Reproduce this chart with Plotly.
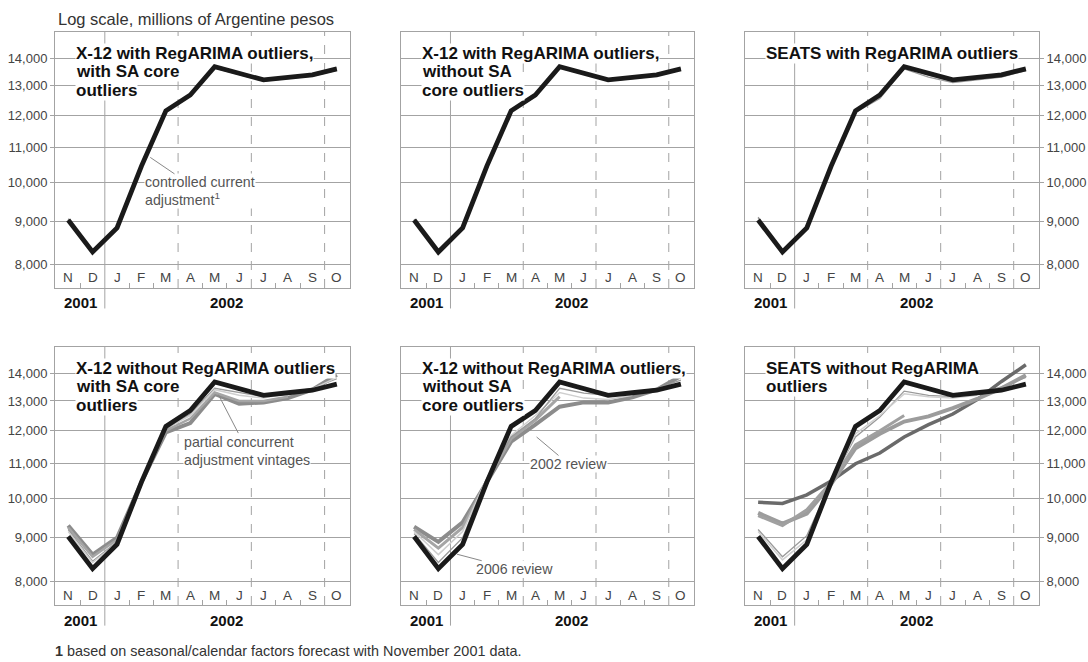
import math
import plotly.graph_objects as go

# ==== Data ====
months = ["N", "D", "J", "F", "M", "A", "M", "J", "J", "A", "S", "O"]
year_labels = ["2001", "2002"]
year_pos = [0.5, 6.5]
y_ticks = [8000, 9000, 10000, 11000, 12000, 13000, 14000]
y_ticktext = ["8,000", "9,000", "10,000", "11,000", "12,000", "13,000", "14,000"]

# final (published) seasonally adjusted series, same in every panel
final_sa = [9030, 8280, 8840, 10450, 12140, 12670, 13680, 13430, 13200, 13290, 13380, 13600]

# X-12 with RegARIMA outliers, with SA core outliers
p1_a = [9060, 8310, 8870, 10480, 12170, 12700, 13720, 13470, 13230, 13320, 13410, 13640]
p1_b = [9000, 8250, 8810, 10410, 12110, 12630, 13630, 13390, 13160, 13250, 13340, 13550]
# X-12 with RegARIMA outliers, without SA core outliers
p2_a = [9050, 8300, 8860, 10470, 12160, 12710, 13700, 13460, 13220, 13320, 13420, 13630]
p2_b = [9010, 8260, 8820, 10420, 12110, 12620, 13640, 13390, 13170, 13250, 13350, 13560]
# SEATS with RegARIMA outliers
p3_a = [9100, 8230, 8800, 10380, 12090, 12550, 13600, 13300, 13100, 13200, 13300, 13540]
p3_b = [9080, 8310, 8890, 10500, 12180, 12600, 13650, 13370, 13140, 13250, 13360, 13580]
# X-12 without RegARIMA outliers, with SA core outliers
p4_a = [9300, 8600, 9000, 10450, 11950, 12250, 13250, 12900, 12950, 13100, 13400, 13950]
p4_b = [9250, 8550, 8950, 10480, 12000, 12400, 13300, 13000, 13000, 13150, None, None]
p4_c = [9200, 8450, 8900, 10420, 12050, 12550, 13450, 13300, 13150, 13300, 13450, 13800]
p4_d = [9150, 8420, 8870, 10400, 12080, 12500, 13400, 13200, 13100, 13250, 13420, 13850]
# X-12 without RegARIMA outliers, without SA core outliers
p5_2002 = [9270, 8900, 9380, 10480, 11650, 12200, 12800, 12950, 12950, 13130, 13400, 13900]
p5_2006 = [9100, 8420, 9000, 10550, 11800, 12400, 13450, 13280, 13200, 13300, 13450, 13750]
p5_c = [9200, 8750, 9250, 10500, 11750, 12350, 13150, None, None, None, None, None]
p5_d = [9150, 8600, 9150, 10550, 11850, 12500, 13300, 13100, 13050, 13200, None, None]
# SEATS without RegARIMA outliers
p6_a = [9900, 9870, 10100, 10480, 10980, 11300, 11800, 12200, 12550, 13050, 13700, 14330]
p6_b = [9620, 9350, 9600, 10400, 11450, 11900, 12300, 12470, 12750, 13070, 13450, 13930]
p6_c = [9550, 9300, 9700, 10450, 11550, 12000, 12500, None, None, None, None, None]
p6_d = [9200, 8550, 9050, 10450, 11800, 12450, 13350, 13200, 13150, 13250, 13500, 13850]
p6_e = [9150, 8480, 8950, 10400, 11900, 12500, 13250, 13150, 13100, 13200, None, None]

panel_titles = [
    ["X-12 with RegARIMA outliers,", "with SA core", "outliers"],
    ["X-12 with RegARIMA outliers,", "without SA", "core outliers"],
    ["SEATS with RegARIMA outliers"],
    ["X-12 without RegARIMA outliers", "with SA core", "outliers"],
    ["X-12 without RegARIMA outliers,", "without SA", "core outliers"],
    ["SEATS without RegARIMA", "outliers"],
]

# styles: (color, width)
THICK = ("#8c8c8c", 4)
DARK = ("#6a6a6a", 3.5)
THIN = ("#9a9a9a", 1.3)
LIGHT = ("#cfcfcf", 1.5)
panel_series = [
    [(p1_a, THIN), (p1_b, THIN)],
    [(p2_a, THIN), (p2_b, THIN)],
    [(p3_a, THIN), (p3_b, THIN)],
    [(p4_a, THICK), (p4_b, ("#a5a5a5", 2.5)), (p4_c, THIN), (p4_d, LIGHT)],
    [(p5_2002, THICK), (p5_c, ("#a5a5a5", 3)), (p5_d, LIGHT), (p5_2006, THIN)],
    [(p6_a, DARK), (p6_b, ("#9c9c9c", 4)), (p6_c, ("#a0a0a0", 3)), (p6_d, THIN), (p6_e, LIGHT)],
]

# ==== Layout geometry (pixels -> paper fractions) ====
W, H = 1088, 662
col_px = [(55, 350), (401, 694), (745, 1039)]
row_px = [(32, 288), (347, 605)]
GRID = "#a3a3a3"
FONT = "Liberation Sans, Arial, sans-serif"

fig = go.Figure()
shapes = []
annotations = []
layout_axes = {}

for i in range(6):
    r, c = divmod(i, 3)
    n = i + 1
    xa = "x" if n == 1 else f"x{n}"
    ya = "y" if n == 1 else f"y{n}"
    x0, x1 = col_px[c]
    y0, y1 = row_px[r]
    layout_axes["xaxis" if n == 1 else f"xaxis{n}"] = dict(
        domain=[x0 / W, x1 / W], anchor=ya, range=[-0.54, 11.54],
        showgrid=False, zeroline=False, showline=True, mirror=True,
        linecolor=GRID, linewidth=1, ticks="inside", ticklen=5, tickcolor=GRID,
        tickvals=[0.5, 2.5, 3.5, 5.5, 6.5, 8.5, 9.5], showticklabels=False,
    )
    show_labels = c != 1
    layout_axes["yaxis" if n == 1 else f"yaxis{n}"] = dict(
        domain=[1 - y1 / H, 1 - y0 / H], anchor=xa, type="log",
        range=[math.log10(7510), math.log10(15030)],
        tickvals=y_ticks, ticktext=y_ticktext, showgrid=True, gridcolor=GRID,
        gridwidth=1, zeroline=False, showline=True, mirror=True,
        linecolor=GRID, linewidth=1,
        ticks="outside" if show_labels else "", ticklen=4, tickcolor=GRID,
        showticklabels=show_labels, side="right" if c == 2 else "left",
        tickfont=dict(size=13, color="#444", family=FONT),
    )

    for vals, (color, width) in panel_series[i]:
        fig.add_trace(go.Scatter(
            x=list(range(len(months))), y=vals, mode="lines",
            line=dict(color=color, width=width), xaxis=xa, yaxis=ya,
            showlegend=False, hoverinfo="skip",
        ))
    fig.add_trace(go.Scatter(
        x=list(range(len(months))), y=final_sa, mode="lines",
        line=dict(color="#1a1a1a", width=4.8), xaxis=xa, yaxis=ya,
        showlegend=False,
    ))

    # year boundary (solid) and quarter boundaries (dashed)
    shapes.append(dict(type="line", xref=xa, yref=f"{ya} domain", x0=1.5, x1=1.5,
                       y0=-0.08, y1=1, line=dict(color=GRID, width=1), layer="below"))
    for qx in [4.5, 7.5, 10.5]:
        shapes.append(dict(type="line", xref=xa, yref=f"{ya} domain", x0=qx, x1=qx,
                           y0=0, y1=1, line=dict(color=GRID, width=1, dash="dash"),
                           layer="below"))

    hpx = y1 - y0
    for k, m in enumerate(months):
        annotations.append(dict(x=k, y=10 / hpx, xref=xa, yref=f"{ya} domain", text=m,
                                showarrow=False, xanchor="center", yanchor="middle",
                                font=dict(size=13.5, color="#444", family=FONT)))
    for txt, pos in zip(year_labels, year_pos):
        annotations.append(dict(x=pos, y=-15 / hpx, xref=xa, yref=f"{ya} domain",
                                text=f"<b>{txt}</b>", showarrow=False,
                                xanchor="center", yanchor="middle",
                                font=dict(size=15, color="#111", family=FONT)))
    for j, line in enumerate(panel_titles[i]):
        annotations.append(dict(x=20 / (x1 - x0), y=1 - (21 + 18.5 * j) / hpx,
                                xref=f"{xa} domain", yref=f"{ya} domain",
                                text=f"<b>{line}</b>", showarrow=False,
                                xanchor="left", yanchor="middle", bgcolor="white",
                                borderpad=0,
                                font=dict(size=17, color="#111", family=FONT)))

# callout labels
callouts = [
    ("x", "y", 3.36, 10700, "controlled current<br>adjustment<sup>1</sup>", 50, 34),
    ("x4", "y4", 6.15, 13225, "partial concurrent<br>adjustment vintages", 29, 56),
    ("x5", "y5", 5.05, 11800, "2002 review", 32, 27),
    ("x5", "y5", 1.77, 8609, "2006 review", 57, 15),
]
for xa, ya, cx, cy, txt, ax, ay in callouts:
    annotations.append(dict(x=cx, y=math.log10(cy), xref=xa, yref=ya, text=txt,
                            showarrow=True, arrowhead=0, arrowwidth=1, arrowcolor="#888",
                            ax=ax, ay=ay, align="left", bgcolor="white", borderpad=0,
                            font=dict(size=14.2, color="#555", family=FONT)))

annotations.append(dict(x=56 / W, y=1 - 19 / H, xref="paper", yref="paper",
                        text="Log scale, millions of Argentine pesos", showarrow=False,
                        xanchor="left", yanchor="middle",
                        font=dict(size=16.5, color="#333", family=FONT)))
annotations.append(dict(x=53 / W, y=1 - 651 / H, xref="paper", yref="paper",
                        text="<b>1</b> based on seasonal/calendar factors forecast with November 2001 data.",
                        showarrow=False, xanchor="left", yanchor="middle",
                        font=dict(size=14.4, color="#333", family=FONT)))

fig.update_layout(
    width=W, height=H, margin=dict(l=0, r=0, t=0, b=0),
    paper_bgcolor="white", plot_bgcolor="white",
    shapes=shapes, annotations=annotations, showlegend=False,
    font=dict(family=FONT),
    **layout_axes,
)

# drop the browser's default page margin so the figure fills the window
fig.write_html("out.html", config={"displayModeBar": False},
               post_script="document.body.style.margin='0';")
